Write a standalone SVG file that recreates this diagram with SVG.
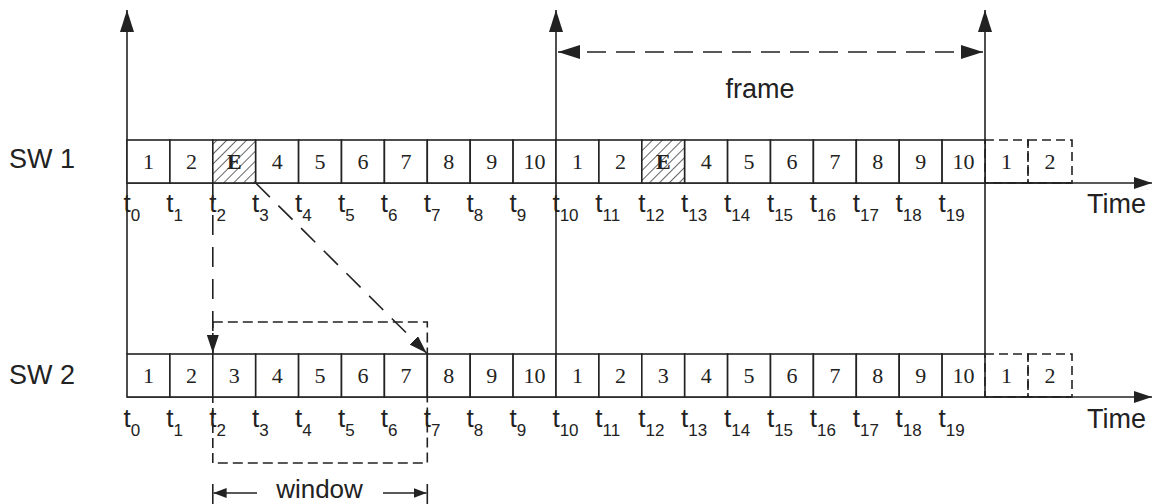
<svg xmlns="http://www.w3.org/2000/svg" width="1153" height="504" viewBox="0 0 1153 504">
<style>
.ln{stroke:#222;stroke-width:1.6;fill:none}
.cell{stroke:#222;stroke-width:1.6;fill:#fff}
.dcell{stroke:#222;stroke-width:1.6;fill:none;stroke-dasharray:9 5}
.num{font-family:"Liberation Serif","Times New Roman",serif;font-size:22px;fill:#222;text-anchor:middle}
.e{font-weight:bold}
.lab{font-family:"Liberation Sans",Arial,sans-serif;font-size:27px;fill:#222}
.t{font-family:"Liberation Sans",Arial,sans-serif;font-size:26px;fill:#222}
.s{font-family:"Liberation Sans",Arial,sans-serif;font-size:17px}
.long{stroke:#222;stroke-width:1.6;fill:none;stroke-dasharray:20 12}
.frm{stroke:#222;stroke-width:1.6;fill:none;stroke-dasharray:19 10}
.short{stroke:#222;stroke-width:1.6;fill:none;stroke-dasharray:10 5}
</style>
<defs>
<pattern id="hatch" patternUnits="userSpaceOnUse" width="7" height="7" patternTransform="rotate(45)">
<rect width="7" height="7" fill="#fff"/>
<line x1="0" y1="0" x2="0" y2="7" stroke="#222" stroke-width="1.4"/>
</pattern>
<marker id="big" markerUnits="userSpaceOnUse" markerWidth="22" markerHeight="14" refX="22" refY="7" orient="auto-start-reverse">
<path d="M0,0 L22,7 L0,14 z" fill="#222"/>
</marker>
<marker id="med" markerUnits="userSpaceOnUse" markerWidth="18" markerHeight="12" refX="18" refY="6" orient="auto-start-reverse">
<path d="M0,0 L18,6 L0,12 z" fill="#222"/>
</marker>
<marker id="small" markerUnits="userSpaceOnUse" markerWidth="13" markerHeight="10" refX="13" refY="5" orient="auto-start-reverse">
<path d="M0,0 L13,5 L0,10 z" fill="#222"/>
</marker>
</defs>
<rect width="1153" height="504" fill="#fff"/>

<g id="connectors">
<line class="ln" x1="127" y1="354" x2="127" y2="10" marker-end="url(#big)"/>
<line class="ln" x1="556" y1="354" x2="556" y2="10" marker-end="url(#big)"/>
<line class="ln" x1="985" y1="354" x2="985" y2="10" marker-end="url(#big)"/>
<line class="frm" x1="558" y1="52" x2="983" y2="52" marker-start="url(#big)" marker-end="url(#big)"/>
<rect class="short" x="212.8" y="322" width="214.5" height="141"/>
<line class="long" x1="212.8" y1="183" x2="212.8" y2="353" marker-end="url(#med)"/>
<line class="long" x1="255.7" y1="183" x2="426.5" y2="353" marker-end="url(#med)"/>
<line class="ln" x1="127" y1="183" x2="1152" y2="183" marker-end="url(#med)"/>
<line class="ln" x1="127" y1="397" x2="1152" y2="397" marker-end="url(#med)"/>
<line class="ln" x1="212.8" y1="484" x2="212.8" y2="504"/>
<line class="ln" x1="427.3" y1="484" x2="427.3" y2="504"/>
<line class="ln" x1="257" y1="493" x2="213.6" y2="493" marker-end="url(#small)"/>
<line class="ln" x1="383" y1="493" x2="426.5" y2="493" marker-end="url(#small)"/>
</g>

<g id="sw1">
<text class="lab" x="9" y="168">SW 1</text>
<g id="sw1-cells">
<rect class="cell" x="127" y="140" width="42.9" height="43"/>
<rect class="cell" x="169.9" y="140" width="42.9" height="43"/>
<rect class="cell" x="212.8" y="140" width="42.9" height="43" style="fill:url(#hatch)"/>
<rect class="cell" x="255.7" y="140" width="42.9" height="43"/>
<rect class="cell" x="298.6" y="140" width="42.9" height="43"/>
<rect class="cell" x="341.5" y="140" width="42.9" height="43"/>
<rect class="cell" x="384.4" y="140" width="42.9" height="43"/>
<rect class="cell" x="427.3" y="140" width="42.9" height="43"/>
<rect class="cell" x="470.2" y="140" width="42.9" height="43"/>
<rect class="cell" x="513.1" y="140" width="42.9" height="43"/>
<rect class="cell" x="556" y="140" width="42.9" height="43"/>
<rect class="cell" x="598.9" y="140" width="42.9" height="43"/>
<rect class="cell" x="641.8" y="140" width="42.9" height="43" style="fill:url(#hatch)"/>
<rect class="cell" x="684.7" y="140" width="42.9" height="43"/>
<rect class="cell" x="727.6" y="140" width="42.9" height="43"/>
<rect class="cell" x="770.5" y="140" width="42.9" height="43"/>
<rect class="cell" x="813.4" y="140" width="42.9" height="43"/>
<rect class="cell" x="856.3" y="140" width="42.9" height="43"/>
<rect class="cell" x="899.2" y="140" width="42.9" height="43"/>
<rect class="cell" x="942.1" y="140" width="42.9" height="43"/>
<rect class="dcell" x="985" y="140" width="43" height="43"/>
<rect class="dcell" x="1028" y="140" width="44" height="43"/>
<line class="ln" x1="985" y1="183" x2="1072" y2="183"/>
</g>
<g id="sw1-nums">
<text class="num" x="148.5" y="169">1</text>
<text class="num" x="191.4" y="169">2</text>
<text class="num e" x="234.3" y="169">E</text>
<text class="num" x="277.2" y="169">4</text>
<text class="num" x="320.1" y="169">5</text>
<text class="num" x="363" y="169">6</text>
<text class="num" x="405.9" y="169">7</text>
<text class="num" x="448.8" y="169">8</text>
<text class="num" x="491.7" y="169">9</text>
<text class="num" x="534.6" y="169">10</text>
<text class="num" x="577.5" y="169">1</text>
<text class="num" x="620.4" y="169">2</text>
<text class="num e" x="663.3" y="169">E</text>
<text class="num" x="706.2" y="169">4</text>
<text class="num" x="749.1" y="169">5</text>
<text class="num" x="792" y="169">6</text>
<text class="num" x="834.9" y="169">7</text>
<text class="num" x="877.8" y="169">8</text>
<text class="num" x="920.7" y="169">9</text>
<text class="num" x="963.6" y="169">10</text>
<text class="num" x="1006.5" y="169">1</text>
<text class="num" x="1050" y="169">2</text>
</g>
<g id="sw1-times">
<text class="t" x="123.4" y="212">t<tspan class="s" dy="9">0</tspan></text>
<text class="t" x="166.3" y="212">t<tspan class="s" dy="9">1</tspan></text>
<text class="t" x="209.2" y="212">t<tspan class="s" dy="9">2</tspan></text>
<text class="t" x="252.1" y="212">t<tspan class="s" dy="9">3</tspan></text>
<text class="t" x="295" y="212">t<tspan class="s" dy="9">4</tspan></text>
<text class="t" x="337.9" y="212">t<tspan class="s" dy="9">5</tspan></text>
<text class="t" x="380.8" y="212">t<tspan class="s" dy="9">6</tspan></text>
<text class="t" x="423.7" y="212">t<tspan class="s" dy="9">7</tspan></text>
<text class="t" x="466.6" y="212">t<tspan class="s" dy="9">8</tspan></text>
<text class="t" x="509.5" y="212">t<tspan class="s" dy="9">9</tspan></text>
<text class="t" x="552.4" y="212">t<tspan class="s" dy="9">10</tspan></text>
<text class="t" x="595.3" y="212">t<tspan class="s" dy="9">11</tspan></text>
<text class="t" x="638.2" y="212">t<tspan class="s" dy="9">12</tspan></text>
<text class="t" x="681.1" y="212">t<tspan class="s" dy="9">13</tspan></text>
<text class="t" x="724" y="212">t<tspan class="s" dy="9">14</tspan></text>
<text class="t" x="766.9" y="212">t<tspan class="s" dy="9">15</tspan></text>
<text class="t" x="809.8" y="212">t<tspan class="s" dy="9">16</tspan></text>
<text class="t" x="852.7" y="212">t<tspan class="s" dy="9">17</tspan></text>
<text class="t" x="895.6" y="212">t<tspan class="s" dy="9">18</tspan></text>
<text class="t" x="938.5" y="212">t<tspan class="s" dy="9">19</tspan></text>
</g>
<text class="lab" x="1087" y="213">Time</text>
</g>

<g id="sw2">
<text class="lab" x="9" y="384">SW 2</text>
<g id="sw2-cells">
<rect class="cell" x="127" y="354" width="42.9" height="43"/>
<rect class="cell" x="169.9" y="354" width="42.9" height="43"/>
<rect class="cell" x="212.8" y="354" width="42.9" height="43"/>
<rect class="cell" x="255.7" y="354" width="42.9" height="43"/>
<rect class="cell" x="298.6" y="354" width="42.9" height="43"/>
<rect class="cell" x="341.5" y="354" width="42.9" height="43"/>
<rect class="cell" x="384.4" y="354" width="42.9" height="43"/>
<rect class="cell" x="427.3" y="354" width="42.9" height="43"/>
<rect class="cell" x="470.2" y="354" width="42.9" height="43"/>
<rect class="cell" x="513.1" y="354" width="42.9" height="43"/>
<rect class="cell" x="556" y="354" width="42.9" height="43"/>
<rect class="cell" x="598.9" y="354" width="42.9" height="43"/>
<rect class="cell" x="641.8" y="354" width="42.9" height="43"/>
<rect class="cell" x="684.7" y="354" width="42.9" height="43"/>
<rect class="cell" x="727.6" y="354" width="42.9" height="43"/>
<rect class="cell" x="770.5" y="354" width="42.9" height="43"/>
<rect class="cell" x="813.4" y="354" width="42.9" height="43"/>
<rect class="cell" x="856.3" y="354" width="42.9" height="43"/>
<rect class="cell" x="899.2" y="354" width="42.9" height="43"/>
<rect class="cell" x="942.1" y="354" width="42.9" height="43"/>
<rect class="dcell" x="985" y="354" width="43" height="43"/>
<rect class="dcell" x="1028" y="354" width="44" height="43"/>
<line class="ln" x1="985" y1="397" x2="1072" y2="397"/>
</g>
<g id="sw2-nums">
<text class="num" x="148.5" y="383">1</text>
<text class="num" x="191.4" y="383">2</text>
<text class="num" x="234.3" y="383">3</text>
<text class="num" x="277.2" y="383">4</text>
<text class="num" x="320.1" y="383">5</text>
<text class="num" x="363" y="383">6</text>
<text class="num" x="405.9" y="383">7</text>
<text class="num" x="448.8" y="383">8</text>
<text class="num" x="491.7" y="383">9</text>
<text class="num" x="534.6" y="383">10</text>
<text class="num" x="577.5" y="383">1</text>
<text class="num" x="620.4" y="383">2</text>
<text class="num" x="663.3" y="383">3</text>
<text class="num" x="706.2" y="383">4</text>
<text class="num" x="749.1" y="383">5</text>
<text class="num" x="792" y="383">6</text>
<text class="num" x="834.9" y="383">7</text>
<text class="num" x="877.8" y="383">8</text>
<text class="num" x="920.7" y="383">9</text>
<text class="num" x="963.6" y="383">10</text>
<text class="num" x="1006.5" y="383">1</text>
<text class="num" x="1050" y="383">2</text>
</g>
<g id="sw2-times">
<text class="t" x="123.4" y="427">t<tspan class="s" dy="9">0</tspan></text>
<text class="t" x="166.3" y="427">t<tspan class="s" dy="9">1</tspan></text>
<text class="t" x="209.2" y="427">t<tspan class="s" dy="9">2</tspan></text>
<text class="t" x="252.1" y="427">t<tspan class="s" dy="9">3</tspan></text>
<text class="t" x="295" y="427">t<tspan class="s" dy="9">4</tspan></text>
<text class="t" x="337.9" y="427">t<tspan class="s" dy="9">5</tspan></text>
<text class="t" x="380.8" y="427">t<tspan class="s" dy="9">6</tspan></text>
<text class="t" x="423.7" y="427">t<tspan class="s" dy="9">7</tspan></text>
<text class="t" x="466.6" y="427">t<tspan class="s" dy="9">8</tspan></text>
<text class="t" x="509.5" y="427">t<tspan class="s" dy="9">9</tspan></text>
<text class="t" x="552.4" y="427">t<tspan class="s" dy="9">10</tspan></text>
<text class="t" x="595.3" y="427">t<tspan class="s" dy="9">11</tspan></text>
<text class="t" x="638.2" y="427">t<tspan class="s" dy="9">12</tspan></text>
<text class="t" x="681.1" y="427">t<tspan class="s" dy="9">13</tspan></text>
<text class="t" x="724" y="427">t<tspan class="s" dy="9">14</tspan></text>
<text class="t" x="766.9" y="427">t<tspan class="s" dy="9">15</tspan></text>
<text class="t" x="809.8" y="427">t<tspan class="s" dy="9">16</tspan></text>
<text class="t" x="852.7" y="427">t<tspan class="s" dy="9">17</tspan></text>
<text class="t" x="895.6" y="427">t<tspan class="s" dy="9">18</tspan></text>
<text class="t" x="938.5" y="427">t<tspan class="s" dy="9">19</tspan></text>
</g>
<text class="lab" x="1087" y="428">Time</text>
</g>

<g id="labels">
<text class="lab" x="760" y="98" text-anchor="middle">frame</text>
<text class="lab" x="319.5" y="498" text-anchor="middle" style="font-size:26px">window</text>
</g>
</svg>
